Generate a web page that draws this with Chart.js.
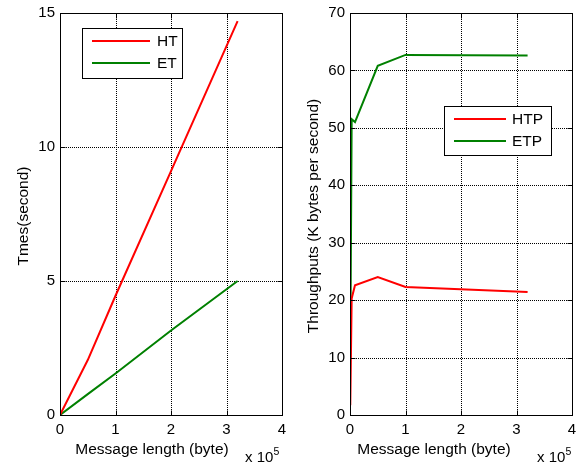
<!DOCTYPE html>
<html>
<head>
<meta charset="utf-8">
<script src="https://cdn.jsdelivr.net/npm/chart.js@4"></script>
<style>
  html, body { margin: 0; padding: 0; background: #fff; }
  #wrap { position: relative; width: 576px; height: 464px; }
  #leftBox { position: absolute; left: 0; top: 0; width: 290px; height: 464px; }
  #rightBox { position: absolute; left: 290px; top: 0; width: 286px; height: 464px; }
</style>
</head>
<body>
<div id="wrap">
  <div id="leftBox"><canvas id="timeChart"></canvas></div>
  <div id="rightBox"><canvas id="rateChart"></canvas></div>
</div>
<script>
// --- data (message length in units of 10^5 byte) ---
const timeLengths = [0, 0.5, 1, 2, 3.2];
const htTimes = [0, 2.05, 4.45, 9.1, 14.7];
const etTimes = [0, 0.78, 1.55, 3.15, 5.0];

const rateLengths = [0.005, 0.03, 0.09, 0.5, 1, 3.2];
const htpRates = [1.7, 20.3, 22.6, 24.0, 22.3, 21.4];
const etpRates = [10, 51.5, 51, 60.8, 62.7, 62.6];

const xTicks = [0, 1, 2, 3, 4];
const timeTicks = [0, 5, 10, 15];
const rateTicks = [0, 10, 20, 30, 40, 50, 60, 70];

const FONT = '"Liberation Sans", Arial, sans-serif';
const RED = '#ff0000';
const GREEN = '#008000';

const pts = (xs, ys) => xs.map((x, i) => ({ x: x, y: ys[i] }));

// matlab-like frame: dotted grid, box, inward ticks, legend, labels
const matlabFrame = {
    id: 'matlabFrame',
    beforeDatasetsDraw(chart, args, opts) {
        const { ctx, chartArea: a, scales: { x, y } } = chart;
        ctx.save();
        ctx.strokeStyle = '#000';
        ctx.lineWidth = 1;
        ctx.setLineDash([1, 1]);
        x.ticks.forEach(t => {
            const px = Math.round(x.getPixelForValue(t.value)) + 0.5;
            if (px <= a.left + 1 || px >= a.right - 1) return;
            ctx.beginPath(); ctx.moveTo(px, a.top); ctx.lineTo(px, a.bottom); ctx.stroke();
        });
        y.ticks.forEach(t => {
            const py = Math.round(y.getPixelForValue(t.value)) + 0.5;
            if (py <= a.top + 1 || py >= a.bottom - 1) return;
            ctx.beginPath(); ctx.moveTo(a.left, py); ctx.lineTo(a.right, py); ctx.stroke();
        });
        ctx.restore();
    },
    afterDatasetsDraw(chart, args, opts) {
        const { ctx, chartArea: a, scales: { x, y } } = chart;
        ctx.save();
        ctx.strokeStyle = '#000';
        ctx.lineWidth = 1;
        ctx.setLineDash([]);
        const L = Math.round(a.left) + 0.5, R = Math.round(a.right) + 0.5;
        const T = Math.round(a.top) + 0.5, B = Math.round(a.bottom) + 0.5;
        ctx.strokeRect(L, T, R - L, B - T);
        // inward ticks
        x.ticks.forEach(t => {
            const px = Math.round(x.getPixelForValue(t.value)) + 0.5;
            ctx.beginPath();
            ctx.moveTo(px, B); ctx.lineTo(px, B - 5);
            ctx.moveTo(px, T); ctx.lineTo(px, T + 5);
            ctx.stroke();
        });
        y.ticks.forEach(t => {
            const py = Math.round(y.getPixelForValue(t.value)) + 0.5;
            ctx.beginPath();
            ctx.moveTo(L, py); ctx.lineTo(L + 5, py);
            ctx.moveTo(R, py); ctx.lineTo(R - 5, py);
            ctx.stroke();
        });

        // legend
        const lg = opts.legend;
        ctx.fillStyle = '#fff';
        ctx.fillRect(lg.x + 0.5, lg.y + 0.5, lg.w, lg.h);
        ctx.strokeRect(lg.x + 0.5, lg.y + 0.5, lg.w, lg.h);
        ctx.font = '15.5px ' + FONT;
        ctx.textBaseline = 'middle';
        ctx.textAlign = 'left';
        chart.data.datasets.forEach((ds, i) => {
            const ly = lg.y + lg.rows[i];
            ctx.strokeStyle = ds.borderColor;
            ctx.lineWidth = 2;
            ctx.beginPath();
            ctx.moveTo(lg.x + lg.lineFrom, ly); ctx.lineTo(lg.x + lg.lineTo, ly);
            ctx.stroke();
            ctx.fillStyle = '#000';
            ctx.fillText(ds.label, lg.x + lg.textAt, ly + 1);
        });

        // axis titles
        ctx.fillStyle = '#000';
        ctx.font = '15.5px ' + FONT;
        ctx.textAlign = 'center';
        ctx.textBaseline = 'alphabetic';
        ctx.fillText(opts.xTitle, opts.xTitleX, 454);
        ctx.save();
        ctx.translate(27.5, 216);
        ctx.rotate(-Math.PI / 2);
        ctx.fillText(opts.yTitle, 0, 0);
        ctx.restore();

        // exponent
        ctx.textAlign = 'left';
        ctx.font = '15px ' + FONT;
        ctx.fillText('x 10', opts.expX, 462);
        ctx.font = '10.5px ' + FONT;
        ctx.fillText('5', opts.expX + 28.5, 455);
        ctx.restore();
    }
};

function makeChart(id, datasets, yMax, yTicks, rightPad, frameOpts) {
    return new Chart(document.getElementById(id), {
        type: 'line',
        data: { datasets: datasets },
        options: {
            responsive: true,
            maintainAspectRatio: false,
            animation: false,
            layout: { padding: { left: 0, top: 13, right: rightPad, bottom: 0 } },
            elements: { point: { radius: 0 }, line: { borderWidth: 2, tension: 0 } },
            plugins: { legend: { display: false }, tooltip: { enabled: false }, matlabFrame: frameOpts },
            scales: {
                x: {
                    type: 'linear', min: 0, max: 4,
                    afterBuildTicks: s => { s.ticks = xTicks.map(v => ({ value: v })); },
                    afterFit: s => { s.height = 49; s.paddingLeft = 0; s.paddingRight = 0; },
                    grid: { display: false, drawTicks: false },
                    border: { display: false },
                    ticks: { color: '#000', padding: 6, maxRotation: 0, font: { family: FONT, size: 15 } }
                },
                y: {
                    type: 'linear', min: 0, max: yMax,
                    afterBuildTicks: s => { s.ticks = yTicks.map(v => ({ value: v })); },
                    afterFit: s => { s.width = 60; s.paddingTop = 0; s.paddingBottom = 0; },
                    grid: { display: false, drawTicks: false },
                    border: { display: false },
                    ticks: { color: '#000', padding: 5, font: { family: FONT, size: 15 } }
                }
            }
        },
        plugins: [matlabFrame]
    });
}

makeChart('timeChart', [
    { label: 'HT', data: pts(timeLengths, htTimes), borderColor: RED, backgroundColor: RED },
    { label: 'ET', data: pts(timeLengths, etTimes), borderColor: GREEN, backgroundColor: GREEN }
], 15, timeTicks, 8, {
    legend: { x: 82, y: 28, w: 100, h: 50, rows: [13, 35], lineFrom: 10, lineTo: 68, textAt: 75 },
    xTitle: 'Message length (byte)', xTitleX: 152,
    yTitle: 'Tmes(second)', expX: 245
});

makeChart('rateChart', [
    { label: 'HTP', data: pts(rateLengths, htpRates), borderColor: RED, backgroundColor: RED },
    { label: 'ETP', data: pts(rateLengths, etpRates), borderColor: GREEN, backgroundColor: GREEN }
], 70, rateTicks, 4, {
    legend: { x: 154, y: 106, w: 107, h: 49, rows: [13, 35], lineFrom: 10, lineTo: 62, textAt: 68 },
    xTitle: 'Message length (byte)', xTitleX: 144,
    yTitle: 'Throughputs (K bytes per second)', expX: 247
});
</script>
</body>
</html>
